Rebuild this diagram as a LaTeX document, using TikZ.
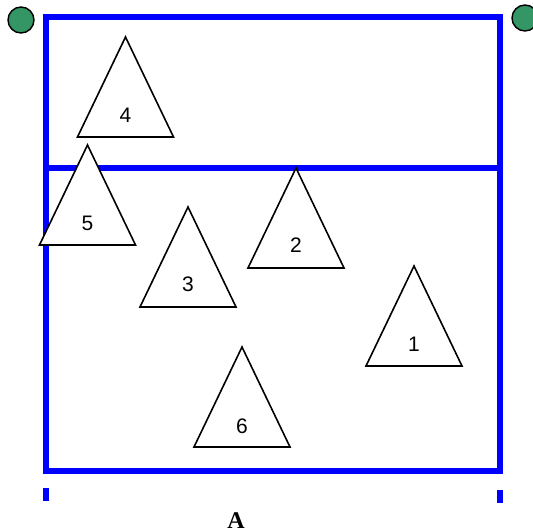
\documentclass[tikz,border=0pt]{standalone}
\usepackage{fontspec}
\setmainfont{Liberation Sans}
\newfontfamily\serifA{Liberation Serif}
\definecolor{courtblue}{RGB}{0,0,255}
\definecolor{postgreen}{RGB}{52,150,100}
\tikzset{
  court/.style={draw=courtblue, line width=6pt},
  player/.style={draw=black, fill=white, line width=1.6pt, line join=miter},
  plabel/.style={font=\fontsize{21}{21}\selectfont, inner sep=0pt},
  post/.style={circle, draw=black, line width=1.4pt, fill=postgreen, minimum size=26pt, inner sep=0pt},
  tick/.style={draw=courtblue, line width=6pt}
}
\newcommand{\playertri}[5]{%
  % #1 name, #2 apex x, #3 apex y, #4 label, #5 label y
  \coordinate (#1-a) at (#2,#3);
  \coordinate (#1-l) at ($(#1-a)+(-48,100)$);
  \coordinate (#1-r) at ($(#1-a)+(48,100)$);
  \path[player] (#1-a) -- (#1-l) -- (#1-r) -- cycle;
  \node[plabel] (#1-t) at (#2,#5) {#4};
}
\usetikzlibrary{calc}
\begin{document}
\begin{tikzpicture}[x=1pt,y=-1pt]
\useasboundingbox (0,0) rectangle (533,531);
% court
\coordinate (tl) at (46,17);
\coordinate (br) at (499.5,471);
\coordinate (ml) at (46,168);
\coordinate (mr) at (499.5,168);
\draw[court] (tl) rectangle (br);
\draw[court] (ml) -- (mr);
% posts
\node[post] (postL) at (21,20) {};
\node[post] (postR) at (525,18) {};
% ticks
\coordinate (tlA) at (46,488);
\coordinate (tlB) at (46,501);
\coordinate (trA) at (499.5,490);
\coordinate (trB) at (499.5,503);
\draw[tick] (tlA) -- (tlB);
\draw[tick] (trA) -- (trB);
% players
\playertri{p4}{125.5}{37}{4}{115}
\playertri{p5}{87.5}{145}{5}{223}
\playertri{p3}{188}{207}{3}{284}
\playertri{p2}{296}{168}{2}{245}
\playertri{p1}{414}{266}{1}{344}
\playertri{p6}{242}{347}{6}{426}
% label
\node[font=\serifA\bfseries\fontsize{24}{24}\selectfont, inner sep=0pt, anchor=base] (lblA) at (236,528) {A};
\end{tikzpicture}
\end{document}
